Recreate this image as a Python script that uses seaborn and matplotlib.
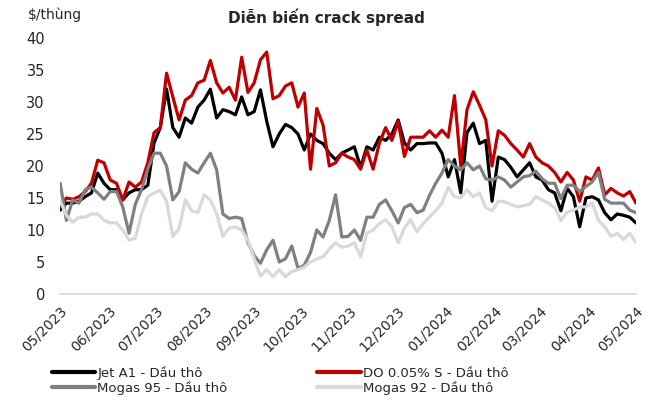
import pandas as pd
import numpy as np
import matplotlib
matplotlib.use("Agg")
import matplotlib.pyplot as plt
import matplotlib.dates as mdates
import seaborn as sns

# Crack spread values (roughly every 4 days, 05/2023 -> 05/2024)
dates = pd.date_range("2023-05-01", "2024-05-01", periods=93)

jet_a1 = [13.1, 14.2, 14.2, 14.5, 15.2, 15.8, 18.9, 17.3, 16.3, 16.3,
          14.7, 15.8, 16.3, 16.3, 17.0, 23.6, 26.0, 32.0, 26.0, 24.5,
          27.5, 26.7, 29.2, 30.3, 32.0, 27.5, 28.8, 28.5, 28.0, 30.8,
          28.0, 28.5, 31.9, 27.0, 23.0, 25.0, 26.5, 26.0, 25.0, 22.5,
          25.0, 24.0, 23.5, 22.0, 21.0, 22.0, 22.5, 23.0, 19.8, 23.0,
          22.5, 24.5, 24.0, 25.0, 27.2, 23.6, 22.5, 23.5, 23.5, 23.6,
          23.6, 22.0, 18.3, 21.0, 15.8, 25.2, 26.7, 23.5, 24.0, 14.5,
          21.4, 21.0, 19.8, 18.3, 19.4, 20.5, 18.3, 17.8, 16.3, 15.8,
          13.0, 16.5, 15.2, 10.5, 15.0, 15.2, 14.7, 12.7, 11.6, 12.5,
          12.3, 12.0, 11.1]

do_005s = [13.6, 15.0, 14.8, 15.2, 16.0, 17.3, 20.9, 20.5, 17.8, 17.3,
           14.7, 17.5, 16.7, 17.5, 20.5, 25.2, 26.0, 34.5, 30.8, 27.2,
           30.3, 31.0, 33.0, 33.4, 36.5, 33.0, 31.4, 32.3, 30.3, 37.0,
           31.5, 33.0, 36.6, 37.8, 30.5, 31.0, 32.5, 33.0, 29.2, 31.4,
           19.5, 29.0, 26.4, 20.0, 20.5, 22.0, 21.4, 21.0, 19.5, 22.5,
           19.5, 23.6, 26.0, 24.0, 27.0, 21.5, 24.5, 24.5, 24.5, 25.5,
           24.5, 25.6, 24.5, 31.0, 20.0, 28.8, 31.6, 29.5, 27.2, 20.0,
           25.5, 24.8, 23.5, 22.5, 21.4, 23.5, 21.4, 20.5, 20.0, 19.0,
           17.5, 19.0, 17.8, 14.5, 18.3, 17.8, 19.7, 15.5, 16.5, 15.8,
           15.3, 16.0, 14.2]

mogas_95 = [17.3, 11.5, 14.7, 14.2, 16.3, 16.7, 15.8, 14.8, 16.0, 16.0,
            13.6, 9.5, 14.0, 16.3, 19.5, 22.0, 22.0, 20.0, 14.7, 16.0,
            20.5, 19.5, 18.9, 20.5, 22.0, 19.4, 12.5, 11.8, 12.0, 11.8,
            8.0, 6.0, 4.8, 6.9, 8.4, 5.0, 5.5, 7.5, 4.0, 4.5,
            6.5, 10.0, 8.9, 11.5, 15.5, 8.9, 9.0, 10.0, 8.4, 12.0,
            12.0, 14.0, 14.7, 13.0, 11.1, 13.5, 14.0, 12.7, 13.1, 15.4,
            17.3, 18.9, 21.0, 20.0, 19.4, 20.5, 19.4, 20.0, 18.0, 17.8,
            18.3, 17.8, 16.7, 17.5, 18.3, 18.5, 19.2, 18.0, 17.3, 17.3,
            14.9, 17.0, 17.0, 16.0, 16.8, 17.5, 19.0, 14.8, 14.2, 14.2,
            14.2, 13.1, 12.7]

mogas_92 = [14.5, 12.3, 11.2, 12.0, 12.0, 12.5, 12.5, 11.5, 11.1, 11.1,
            10.0, 8.4, 8.7, 12.5, 15.2, 15.8, 16.2, 14.5, 9.0, 10.2,
            14.7, 13.0, 12.7, 15.5, 14.7, 12.5, 9.0, 10.3, 10.5, 10.0,
            8.4, 5.5, 2.8, 3.8, 2.7, 3.8, 2.7, 3.5, 3.8, 4.2,
            5.0, 5.5, 5.8, 7.0, 8.0, 7.3, 7.5, 8.0, 5.8, 9.5,
            10.0, 11.0, 11.6, 10.5, 8.0, 10.3, 11.6, 9.7, 11.0, 12.0,
            13.0, 14.2, 16.7, 15.2, 15.0, 16.3, 15.2, 15.8, 13.5, 13.0,
            14.5, 14.4, 14.0, 13.6, 13.8, 14.0, 15.2, 14.7, 14.2, 13.5,
            11.5, 12.8, 13.1, 13.6, 13.6, 14.2, 11.5, 10.5, 9.0, 9.5,
            8.5, 9.5, 8.0]

series_names = ["Jet A1 - Dầu thô", "DO 0.05% S - Dầu thô",
                "Mogas 95 - Dầu thô", "Mogas 92 - Dầu thô"]
colors = ["#000000", "#C00000", "#808080", "#D9D9D9"]

df = pd.DataFrame({"date": dates,
                   series_names[0]: jet_a1,
                   series_names[1]: do_005s,
                   series_names[2]: mogas_95,
                   series_names[3]: mogas_92})
df_long = df.melt(id_vars="date", var_name="series", value_name="value")

sns.set_theme(style="white")
plt.rcParams["font.family"] = ["DejaVu Sans"]

fig = plt.figure(figsize=(6.47, 4.0), dpi=100)
ax = fig.add_axes([0.093, 0.265, 0.890, 0.640])

sns.lineplot(data=df_long, x="date", y="value", hue="series",
             hue_order=series_names, palette=colors, linewidth=2.3,
             ax=ax, legend=False)

ax.set_ylim(0, 40)
ax.set_yticks(range(0, 41, 5))
ax.set_xlim(pd.Timestamp("2023-05-01"), pd.Timestamp("2024-05-01"))
ax.xaxis.set_major_locator(mdates.MonthLocator())
ax.xaxis.set_major_formatter(mdates.DateFormatter("%m/%Y"))
ax.set_xlabel("")
ax.set_ylabel("")

for s in ["top", "right", "left"]:
    ax.spines[s].set_visible(False)
ax.spines["bottom"].set_color("#D9D9D9")
ax.spines["bottom"].set_linewidth(1.2)
ax.tick_params(axis="x", length=5, width=1.2, color="#D9D9D9",
               direction="out", labelsize=10, pad=2)
ax.tick_params(axis="y", length=0, labelsize=10.5, pad=11)
plt.setp(ax.get_xticklabels(), rotation=45, ha="right", rotation_mode="anchor")

fig.text(0.505, 0.958, "Diễn biến crack spread", ha="center", va="center",
         fontsize=11, fontweight="bold")
fig.text(0.043, 0.962, "$/thùng", ha="left", va="center", fontsize=10)

# legend: two columns at the bottom
handles = [plt.Line2D([], [], color=c, linewidth=3) for c in colors]
order = [0, 2, 1, 3]
fig.legend([handles[i] for i in order], [series_names[i] for i in order],
           loc="lower left", bbox_to_anchor=(0.072, 0.0),
           ncol=2, frameon=False, fontsize=9.5,
           handlelength=3.3, handletextpad=0.15, labelspacing=0.08,
           columnspacing=6.8, borderaxespad=0.0)

fig.savefig("out.png", dpi=100)
